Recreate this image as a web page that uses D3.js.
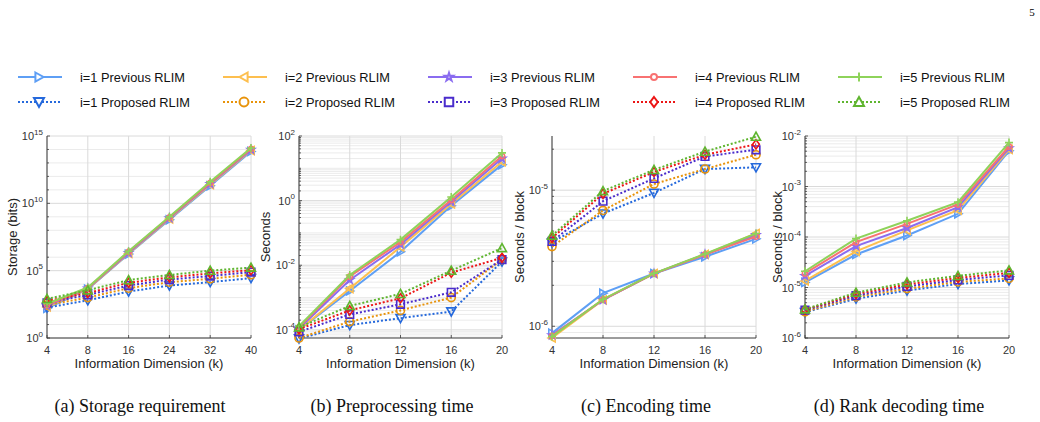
<!DOCTYPE html>
<html>
<head>
<meta charset="utf-8">
<script src="https://cdn.jsdelivr.net/npm/d3@7"></script>
<style>
    body { margin: 0; background: #fff; }
    svg { display: block; font-family: "Liberation Sans", Arial, Helvetica, sans-serif; }
</style>
</head>
<body>
<svg id="chart" width="1040" height="422"></svg>
<script>
// ===== Data (rows are i=1..5) =====
const kStorage = [4, 8, 16, 24, 32, 40];
const kTime = [4, 8, 12, 16, 20];

const seriesLabels = ['i=1', 'i=2', 'i=3', 'i=4', 'i=5'];

// (a) Storage requirement, bits
const storagePrevious = [
    [160, 4.2e3, 1.7e6, 6.0e8, 2.0e11, 7.1e13],
    [200, 4.5e3, 1.9e6, 6.9e8, 2.4e11, 8.3e13],
    [250, 4.8e3, 2.1e6, 7.9e8, 2.8e11, 9.5e13],
    [280, 5.0e3, 2.5e6, 8.9e8, 3.3e11, 1.1e14],
    [350, 5.6e3, 2.8e6, 1.0e9, 4.0e11, 1.3e14]
];
const storageProposed = [
    [180, 630, 2.8e3, 7.9e3, 1.4e4, 2.8e4],
    [280, 1.0e3, 5.0e3, 1.4e4, 2.5e4, 5.0e4],
    [400, 1.6e3, 7.9e3, 2.2e4, 4.0e4, 7.9e4],
    [560, 2.2e3, 1.26e4, 3.2e4, 6.3e4, 1.1e5],
    [800, 3.5e3, 2.0e4, 4.8e4, 1.0e5, 1.7e5]
];

// (b) Preprocessing time, seconds
const preprocPrevious = [
    [1.0e-4, 1.6e-3, 2.6e-2, 0.69, 13],
    [1.0e-4, 1.9e-3, 3.7e-2, 0.79, 16],
    [1.1e-4, 3.5e-3, 4.4e-2, 0.93, 20],
    [1.2e-4, 4.5e-3, 5.2e-2, 1.05, 24],
    [1.3e-4, 5.0e-3, 6.2e-2, 1.3, 30]
];
const preprocProposed = [
    [5.4e-5, 1.4e-4, 2.3e-4, 3.7e-4, 1.3e-2],
    [5.6e-5, 1.8e-4, 4.0e-4, 1.0e-3, 1.5e-2],
    [8.7e-5, 3.0e-4, 6.2e-4, 1.45e-3, 1.5e-2],
    [1.05e-4, 4.0e-4, 9.5e-4, 5.9e-3, 1.7e-2],
    [1.2e-4, 5.5e-4, 1.3e-3, 6.8e-3, 3.4e-2]
];

// (c) Encoding time, seconds / block
const encodePrevious = [
    [8.9e-7, 1.75e-6, 2.44e-6, 3.24e-6, 4.39e-6],
    [8.2e-7, 1.56e-6, 2.44e-6, 3.37e-6, 4.80e-6],
    [8.6e-7, 1.56e-6, 2.44e-6, 3.37e-6, 4.68e-6],
    [8.5e-7, 1.57e-6, 2.44e-6, 3.37e-6, 4.56e-6],
    [8.4e-7, 1.58e-6, 2.45e-6, 3.40e-6, 4.80e-6]
];
const encodeProposed = [
    [4.14e-6, 6.73e-6, 9.55e-6, 1.43e-5, 1.47e-5],
    [3.85e-6, 7.1e-6, 1.11e-5, 1.43e-5, 1.82e-5],
    [4.2e-6, 8.3e-6, 1.22e-5, 1.77e-5, 1.98e-5],
    [4.45e-6, 9.4e-6, 1.36e-5, 1.82e-5, 2.17e-5],
    [4.63e-6, 9.85e-6, 1.41e-5, 1.92e-5, 2.47e-5]
];

// (d) Rank decoding time, seconds / block
const decodePrevious = [
    [1.26e-5, 4.5e-5, 1.07e-4, 2.88e-4, 5.1e-3],
    [1.35e-5, 5.2e-5, 1.35e-4, 3.4e-4, 5.4e-3],
    [1.7e-5, 6.6e-5, 1.51e-4, 3.9e-4, 5.75e-3],
    [1.9e-5, 7.9e-5, 1.82e-4, 4.4e-4, 6.2e-3],
    [2.1e-5, 9.3e-5, 2.1e-4, 4.9e-4, 7.4e-3]
];
const decodeProposed = [
    [3.24e-6, 6.0e-6, 8.7e-6, 1.17e-5, 1.38e-5],
    [3.3e-6, 6.5e-6, 9.5e-6, 1.29e-5, 1.51e-5],
    [3.55e-6, 6.9e-6, 1.05e-5, 1.41e-5, 1.74e-5],
    [3.63e-6, 7.4e-6, 1.15e-5, 1.55e-5, 1.95e-5],
    [3.7e-6, 7.9e-6, 1.26e-5, 1.7e-5, 2.19e-5]
];

// ===== Styles =====
const prevColors = ['#5e9ff5', '#fdbf4f', '#8a6cf0', '#f87272', '#8ed35a'];
const propColors = ['#2569dc', '#e8930a', '#4a2ccc', '#ec1515', '#5fb52f'];
const prevMarkers = ['triRight', 'triLeft', 'star', 'dot', 'plus'];
const propMarkers = ['triDown', 'circle', 'square', 'diamond', 'triUp'];

const svg = d3.select('#chart');

/**
 * Path for a marker centred on (0,0)
 */
function markerPath(type, s) {
    const h = s / 2;
    switch (type) {
        case 'triRight': return `M${-h * 0.8},${-h}L${h},0L${-h * 0.8},${h}Z`;
        case 'triLeft': return `M${h * 0.8},${-h}L${-h},0L${h * 0.8},${h}Z`;
        case 'triDown': return `M${-h},${-h * 0.8}L${h},${-h * 0.8}L0,${h}Z`;
        case 'triUp': return `M${-h},${h * 0.8}L${h},${h * 0.8}L0,${-h}Z`;
        case 'square': return `M${-h * 0.85},${-h * 0.85}H${h * 0.85}V${h * 0.85}H${-h * 0.85}Z`;
        case 'diamond': return `M0,${-h}L${h * 0.75},0L0,${h}L${-h * 0.75},0Z`;
        case 'plus': return `M${-h},0H${h}M0,${-h}V${h}`;
        case 'circle': return d3.symbol(d3.symbolCircle, Math.PI * h * h * 0.8)();
        case 'dot': return d3.symbol(d3.symbolCircle, Math.PI * h * h * 0.45)();
        case 'star': return d3.symbol(d3.symbolStar, s * s * 0.25)();
    }
}

function minorTicks(domain) {
    const out = [];
    const lo = Math.floor(Math.log10(domain[0]));
    const hi = Math.ceil(Math.log10(domain[1]));
    for (let e = lo; e <= hi; e++) {
        for (let m = 1; m <= 9; m++) {
            const v = m * Math.pow(10, e);
            if (v >= domain[0] * 0.999 && v <= domain[1] * 1.001) out.push(v);
        }
    }
    return out;
}

function decadeTicks(domain) {
    const out = [];
    const lo = Math.ceil(Math.log10(domain[0]) - 1e-9);
    const hi = Math.floor(Math.log10(domain[1]) + 1e-9);
    for (let e = lo; e <= hi; e++) out.push(Math.pow(10, e));
    return out;
}

const plotTop = 136, plotBottom = 338;

const panels = [
    { k: kStorage, prev: storagePrevious, prop: storageProposed, left: 47, right: 251,
      domain: [1, 1e15], major: [1, 1e5, 1e10, 1e15], minor: decadeTicks([1, 1e15]),
      ylabel: 'Storage (bits)', labelX: 12, caption: '(a) Storage requirement', capX: 140 },
    { k: kTime, prev: preprocPrevious, prop: preprocProposed, left: 299, right: 502,
      domain: [5.6e-5, 100], major: [1e-4, 1e-2, 1, 100], minor: minorTicks([5.6e-5, 100]),
      ylabel: 'Seconds', labelX: 265, caption: '(b) Preprocessing time', capX: 392 },
    { k: kTime, prev: encodePrevious, prop: encodeProposed, left: 552, right: 756,
      domain: [8.2e-7, 2.5e-5], major: [1e-6, 1e-5], minor: minorTicks([8.2e-7, 2.5e-5]),
      ylabel: 'Seconds / block', labelX: 519, caption: '(c) Encoding time', capX: 646 },
    { k: kTime, prev: decodePrevious, prop: decodeProposed, left: 805, right: 1009,
      domain: [1e-6, 1e-2], major: [1e-6, 1e-5, 1e-4, 1e-3, 1e-2], minor: minorTicks([1e-6, 1e-2]),
      ylabel: 'Seconds / block', labelX: 777, caption: '(d) Rank decoding time', capX: 899 }
];

panels.forEach(p => {
    const x = d3.scalePoint().domain(p.k).range([p.left, p.right]);
    const y = d3.scaleLog().domain(p.domain).range([plotBottom, plotTop]);
    const g = svg.append('g');

    // ===== grid =====
    g.append('g').selectAll('line')
        .data(p.minor.filter(v => !p.major.includes(v)))
        .join('line')
        .attr('x1', p.left).attr('x2', p.right)
        .attr('y1', d => y(d)).attr('y2', d => y(d))
        .attr('stroke', '#ebebeb').attr('stroke-width', 1);
    g.append('g').selectAll('line')
        .data(p.major)
        .join('line')
        .attr('x1', p.left).attr('x2', p.right)
        .attr('y1', d => y(d)).attr('y2', d => y(d))
        .attr('stroke', '#dadada').attr('stroke-width', 1);
    g.append('g').selectAll('line')
        .data(p.k)
        .join('line')
        .attr('x1', d => x(d)).attr('x2', d => x(d))
        .attr('y1', plotTop).attr('y2', plotBottom)
        .attr('stroke', '#dadada').attr('stroke-width', 1);

    // ===== axes =====
    const axisColor = '#3a3a3a';
    g.append('line').attr('x1', p.left).attr('x2', p.left).attr('y1', plotTop).attr('y2', plotBottom + 0.5)
        .attr('stroke', axisColor).attr('stroke-width', 1);
    g.append('line').attr('x1', p.left).attr('x2', p.right).attr('y1', plotBottom).attr('y2', plotBottom)
        .attr('stroke', axisColor).attr('stroke-width', 1);

    // y ticks (inward)
    g.append('g').selectAll('line')
        .data(p.minor)
        .join('line')
        .attr('x1', p.left).attr('x2', d => p.left + (p.major.includes(d) ? 3 : 2))
        .attr('y1', d => y(d)).attr('y2', d => y(d))
        .attr('stroke', axisColor).attr('stroke-width', 0.8);
    // x ticks (inward)
    g.append('g').selectAll('line')
        .data(p.k)
        .join('line')
        .attr('x1', d => x(d)).attr('x2', d => x(d))
        .attr('y1', plotBottom).attr('y2', plotBottom - 3)
        .attr('stroke', axisColor).attr('stroke-width', 0.8);

    // y tick labels 10^n
    const yl = g.append('g').selectAll('text')
        .data(p.major)
        .join('text')
        .attr('x', p.left - 4)
        .attr('y', d => y(d) + 4)
        .attr('text-anchor', 'end')
        .attr('fill', '#333')
        .style('font-size', '11px');
    yl.append('tspan').text('10');
    yl.append('tspan')
        .attr('dy', -5.5)
        .style('font-size', '8px')
        .text(d => Math.round(Math.log10(d)));

    // x tick labels
    g.append('g').selectAll('text')
        .data(p.k)
        .join('text')
        .attr('x', d => x(d))
        .attr('y', 353.5)
        .attr('text-anchor', 'middle')
        .attr('fill', '#333')
        .style('font-size', '11px')
        .text(d => d);

    // axis labels
    g.append('text')
        .attr('x', (p.left + p.right) / 2)
        .attr('y', 368)
        .attr('text-anchor', 'middle')
        .attr('fill', '#222')
        .style('font-size', '13px')
        .text('Information Dimension (k)');
    g.append('text')
        .attr('transform', `translate(${p.labelX},${(plotTop + plotBottom) / 2}) rotate(-90)`)
        .attr('dy', '0.35em')
        .attr('text-anchor', 'middle')
        .attr('fill', '#222')
        .style('font-size', '13px')
        .text(p.ylabel);

    // caption
    svg.append('text')
        .attr('x', p.capX)
        .attr('y', 412)
        .attr('text-anchor', 'middle')
        .attr('fill', '#111')
        .style('font-family', '"Liberation Serif", "Times New Roman", serif')
        .style('font-size', '18px')
        .text(p.caption);

    // ===== series =====
    const line = d3.line()
        .x(d => x(d.k))
        .y(d => y(d.v));

    seriesLabels.forEach((name, i) => {
        [
            { vals: p.prev[i], color: prevColors[i], marker: prevMarkers[i], dash: null, size: 8 },
            { vals: p.prop[i], color: propColors[i], marker: propMarkers[i], dash: '2,2', size: 9 }
        ].forEach(s => {
            const pts = p.k.map((k, j) => ({ k, v: s.vals[j] }));
            const sg = g.append('g');
            sg.append('path')
                .datum(pts)
                .attr('d', line)
                .attr('fill', 'none')
                .attr('stroke', s.color)
                .attr('stroke-width', 2)
                .attr('stroke-dasharray', s.dash);
            sg.selectAll('path.marker')
                .data(pts)
                .join('path')
                .attr('class', 'marker')
                .attr('transform', d => `translate(${x(d.k)},${y(d.v)})`)
                .attr('d', markerPath(s.marker, s.size))
                .attr('fill', 'none')
                .attr('stroke', s.color)
                .attr('stroke-width', 1.6);
        });
    });
});

// ===== legend =====
const legend = svg.append('g');
seriesLabels.forEach((name, i) => {
    const x0 = 18 + 205 * i;
    [
        { y: 77, color: prevColors[i], marker: prevMarkers[i], dash: null, text: `${name} Previous RLIM`, size: 9 },
        { y: 102, color: propColors[i], marker: propMarkers[i], dash: '2,2', text: `${name} Proposed RLIM`, size: 10 }
    ].forEach(r => {
        legend.append('line')
            .attr('x1', x0).attr('x2', x0 + 44)
            .attr('y1', r.y).attr('y2', r.y)
            .attr('stroke', r.color)
            .attr('stroke-width', 2)
            .attr('stroke-dasharray', r.dash);
        legend.append('path')
            .attr('transform', `translate(${x0 + 21},${r.y})`)
            .attr('d', markerPath(r.marker, r.size))
            .attr('fill', '#fff')
            .attr('stroke', r.color)
            .attr('stroke-width', 2);
        legend.append('text')
            .attr('x', x0 + 62)
            .attr('y', r.y + 4.5)
            .attr('fill', '#111')
            .style('font-size', '12.8px')
            .text(r.text);
    });
});

// page number
svg.append('text')
    .attr('x', 1032).attr('y', 16)
    .attr('text-anchor', 'middle')
    .style('font-family', '"Liberation Serif", "Times New Roman", serif')
    .style('font-size', '11px')
    .text('5');
</script>
</body>
</html>
